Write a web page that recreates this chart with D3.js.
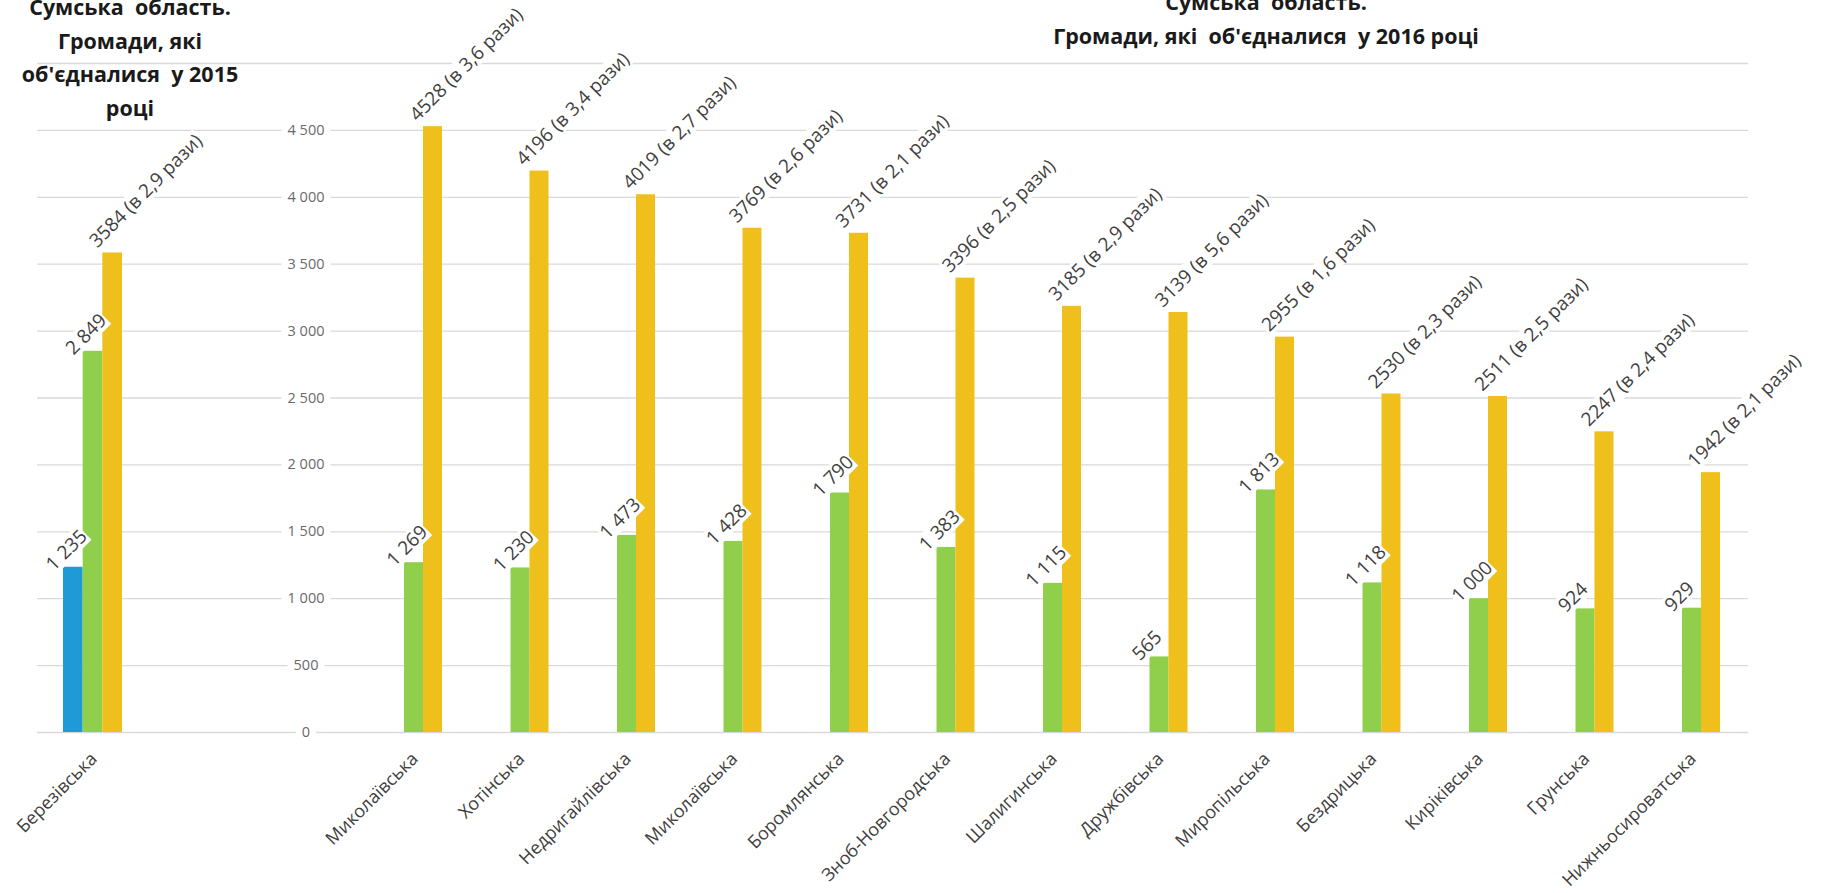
<!DOCTYPE html>
<html><head><meta charset="utf-8">
<script src="https://cdn.jsdelivr.net/npm/d3@7"></script>
<style>
html,body{margin:0;padding:0;background:#fff;overflow:hidden;}
svg{display:block;}
text{font-family:"Open Sans","Noto Sans",sans-serif;}
</style></head><body>
<svg id="chart" width="1822" height="893"></svg>
<script>
// ---- data ----
const seriesKeys = ["2015", "2016", "2017"];
const seriesColors = ["#1f9ad6", "#8fcf4b", "#efbf1b"];

const cats2015 = ["Березівська"];
const vals2015Y2015 = [1235];
const vals2015Y2016 = [2849];
const vals2015Y2017 = [3584];
const ratios2015 = [2.9];

const cats2016 = ["Миколаївська", "Хотінська", "Недригайлівська", "Миколаївська", "Боромлянська",
  "Зноб-Новгородська", "Шалигинська", "Дружбівська", "Миропільська", "Бездрицька",
  "Киріківська", "Грунська", "Нижньосироватська"];
const vals2016Y2015 = [null, null, null, null, null, null, null, null, null, null, null, null, null];
const vals2016Y2016 = [1269, 1230, 1473, 1428, 1790, 1383, 1115, 565, 1813, 1118, 1000, 924, 929];
const vals2016Y2017 = [4528, 4196, 4019, 3769, 3731, 3396, 3185, 3139, 2955, 2530, 2511, 2247, 1942];
const ratios2016 = [3.6, 3.4, 2.7, 2.6, 2.1, 2.5, 2.9, 5.6, 1.6, 2.3, 2.5, 2.4, 2.1];

const yTickLabels = [0, 500, 1000, 1500, 2000, 2500, 3000, 3500, 4000, 4500];
const yGridValues = [0, 500, 1000, 1500, 2000, 2500, 3000, 3500, 4000, 4500, 5000];

const titleLeft = ["Сумська  область.", "Громади, які", "об'єдналися  у 2015", "році"];
const titleRight = ["Сумська  область.", "Громади, які  об'єдналися  у 2016 році"];

// ---- layout ----
const svg = d3.select("#chart");
const gridX0 = 37, gridX1 = 1748;
const y = d3.scaleLinear().domain([0, 5000]).range([732, 63]);
const xLeft = d3.scaleBand().domain(d3.range(cats2015.length)).range([37, 148]).paddingInner(0.465).paddingOuter(0.236);
const xRight = d3.scaleBand().domain(d3.range(cats2016.length)).range([357, 1748]).paddingInner(0.465).paddingOuter(0.263);

const loc = d3.formatLocale({decimal: ",", thousands: "\u00a0", grouping: [3], currency: ["", ""]});
const fmtThousands = loc.format(",d");
const fmtRatio = loc.format(".1f");

// gridlines
const grid = svg.append("g").attr("transform", `translate(${gridX0},0)`)
  .call(d3.axisRight(y).tickValues(yGridValues).tickSize(gridX1 - gridX0).tickFormat(""));
grid.select(".domain").remove();
grid.selectAll("line").attr("stroke", "#d9d9d9").attr("stroke-width", 1.3);

// y labels (in the middle, with white background)
const yAxisX = 306;
const yl = svg.append("g").selectAll("g").data(yTickLabels).join("g")
  .attr("transform", d => `translate(${yAxisX},${y(d)})`);
yl.append("text")
  .attr("text-anchor", "middle").attr("dy", "0.35em")
  .attr("font-size", 14.5).attr("fill", "#6a6a6a")
  .text(d => fmtThousands(d));
yl.each(function() {
  const g = d3.select(this);
  const bb = g.select("text").node().getBBox();
  g.insert("rect", "text").attr("x", bb.x - 6).attr("y", -4).attr("width", bb.width + 12).attr("height", 8).attr("fill", "#fff");
});

function drawGroup(x, cats, v15, v16, v17, ratios) {
  const xSub = d3.scaleBand().domain(seriesKeys).range([0, x.bandwidth()]);
  const color = d3.scaleOrdinal().domain(seriesKeys).range(seriesColors);
  const rows = [];
  cats.forEach((c, i) => {
    [[seriesKeys[0], v15[i]], [seriesKeys[1], v16[i]], [seriesKeys[2], v17[i]]].forEach(([k, v]) => {
      if (v !== null && v !== undefined) rows.push({idx: i, key: k, value: v, ratio: ratios[i]});
    });
  });
  const g = svg.append("g");
  g.selectAll("rect.bar").data(rows).join("rect").attr("class", "bar")
    .attr("x", d => x(d.idx) + xSub(d.key))
    .attr("width", xSub.bandwidth())
    .attr("y", d => y(d.value))
    .attr("height", d => y(0) - y(d.value))
    .attr("fill", d => color(d.key));

  // data labels
  const lab = g.selectAll("g.lab").data(rows).join("g").attr("class", "lab")
    .attr("transform", d => {
      const cx = x(d.idx) + xSub(d.key) + xSub.bandwidth() / 2;
      const long = d.key === seriesKeys[2];
      const dx = long ? -15 : -19;
      const dy = long ? -4 : 5;
      return `translate(${cx + dx},${y(d.value) + dy}) rotate(-45)`;
    });
  lab.append("text")
    .attr("font-size", 19).attr("fill", "#404040")
    .text(d => d.key === seriesKeys[2]
      ? `${d.value} (в ${fmtRatio(d.ratio)} рази)`
      : fmtThousands(d.value));
  lab.each(function() {
    const s = d3.select(this);
    const bb = s.select("text").node().getBBox();
    s.insert("rect", "text").attr("x", bb.x - 1).attr("y", bb.y + 3).attr("width", bb.width + 2).attr("height", bb.height - 5).attr("fill", "#fff");
  });

  // category labels
  g.selectAll("text.cat").data(cats).join("text").attr("class", "cat")
    .attr("transform", (d, i) => `translate(${x(i) + x.bandwidth() / 2 + 5.5},760) rotate(-45)`)
    .attr("text-anchor", "end")
    .attr("font-size", 18).attr("fill", "#404040")
    .text(d => d);
}

drawGroup(xLeft, cats2015, vals2015Y2015, vals2015Y2016, vals2015Y2017, ratios2015);
drawGroup(xRight, cats2016, vals2016Y2015, vals2016Y2016, vals2016Y2017, ratios2016);

// titles
svg.append("g").selectAll("text").data(titleLeft).join("text")
  .attr("x", 130).attr("y", (d, i) => 15 + i * 33.5)
  .attr("text-anchor", "middle").attr("font-weight", "bold").attr("font-size", 21.5).attr("fill", "#1a1a1a")
  .style("white-space", "pre")
  .text(d => d);
svg.append("g").selectAll("text").data(titleRight).join("text")
  .attr("x", 1266).attr("y", (d, i) => 10 + i * 34)
  .attr("text-anchor", "middle").attr("font-weight", "bold").attr("font-size", 21.5).attr("fill", "#1a1a1a")
  .style("white-space", "pre")
  .text(d => d);
</script>
</body></html>
